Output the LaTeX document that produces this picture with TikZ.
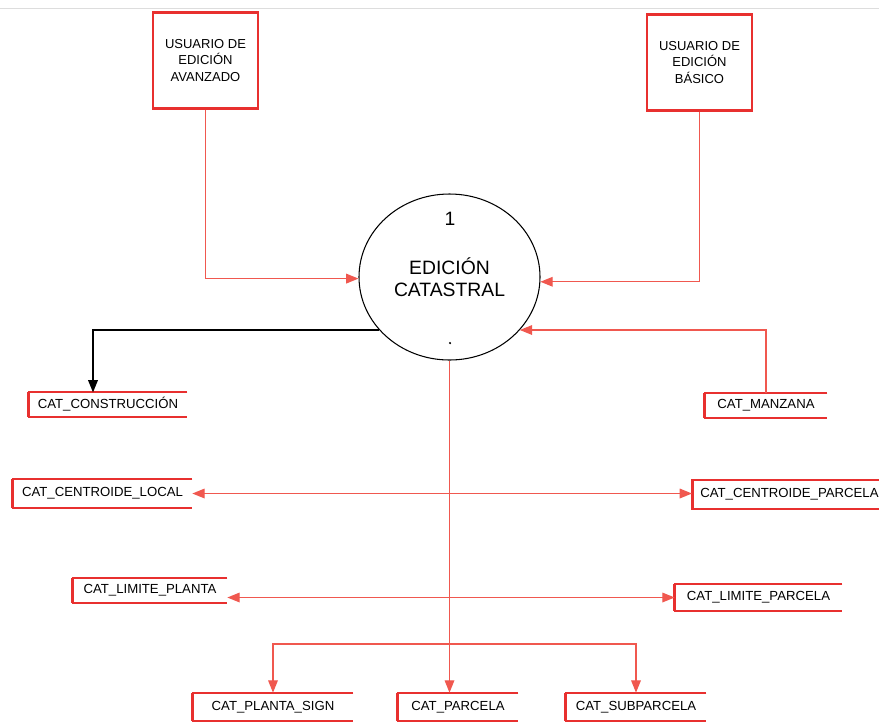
\documentclass[tikz,border=0pt]{standalone}
\usepackage{fontspec}
\setmainfont{Liberation Sans}
\usetikzlibrary{arrows.meta,shapes.geometric}
\definecolor{rojo}{HTML}{E8302F}
\definecolor{rojoclaro}{HTML}{F0584F}
\definecolor{gris}{HTML}{DDDDDD}

\tikzset{
	usuario/.style={draw=rojo, line width=1.6pt, minimum width=2.1cm, minimum height=1.92cm, align=center, font=\fontsize{7.4}{9.4}\selectfont},
	almacen/.style={inner sep=0pt, minimum height=0.52cm, font=\fontsize{7.5}{9}\selectfont},
	borde/.style={rojo, line width=1.1pt},
	flujo/.style={rojoclaro, line width=0.7pt, -{Triangle[length=7pt,width=5.5pt]}},
	doble/.style={rojoclaro, line width=0.7pt, {Triangle[length=7pt,width=5.5pt]}-{Triangle[length=7pt,width=5.5pt]}},
	salida/.style={black, line width=0.8pt, -{Triangle[length=7pt,width=5.5pt]}}
}

\begin{document}
\begin{tikzpicture}
	\useasboundingbox (0,0) rectangle (17.58,-14.48);
	\draw[gris] (0,-0.16) -- (17.58,-0.16);
	% entidades externas
	\node (avz) at (4.11,-1.21)[usuario] {USUARIO DE\\EDICIÓN\\AVANZADO};
	\node (bas) at (13.99,-1.25)[usuario] {USUARIO DE\\EDICIÓN\\BÁSICO};
	% proceso
	\node (proc) at (8.99,-5.54)[ellipse, draw, line width=0.6pt, minimum width=3.62cm, minimum height=3.32cm, align=center, font=\fontsize{11}{12.5}\selectfont] {EDICIÓN\\CATASTRAL};
	\node (num) at (9.0,-4.37)[font=\fontsize{11}{12}\selectfont] {1};
	\node (pto) at (9.0,-6.86)[circle, fill, inner sep=0.5pt] {};
	% almacenes
	\node (cons) at (2.16,-8.09)[almacen, minimum width=3.16cm, minimum height=0.47cm] {CAT\_CONSTRUCCIÓN};
	\node (manz) at (15.32,-8.11)[almacen, minimum width=2.44cm, minimum height=0.47cm] {CAT\_MANZANA};
	\node (cloc) at (2.05,-9.87)[almacen, minimum width=3.58cm, minimum height=0.55cm] {CAT\_CENTROIDE\_LOCAL};
	\node (cpar) at (13.84,-9.89)[almacen, anchor=west, inner xsep=0.16cm, minimum height=0.57cm] {CAT\_CENTROIDE\_PARCELA};
	\node (lpla) at (3.0,-11.81)[almacen, minimum width=3.08cm, minimum height=0.5cm] {CAT\_LIMITE\_PLANTA};
	\node (lpar) at (15.17,-11.95)[almacen, minimum width=3.34cm, minimum height=0.54cm] {CAT\_LIMITE\_PARCELA};
	\node (psig) at (5.46,-14.14)[almacen, minimum width=3.2cm, minimum height=0.56cm] {CAT\_PLANTA\_SIGN};
	\node (parc) at (9.16,-14.14)[almacen, minimum width=2.4cm, minimum height=0.56cm] {CAT\_PARCELA};
	\node (subp) at (12.72,-14.14)[almacen, minimum width=2.8cm, minimum height=0.56cm] {CAT\_SUBPARCELA};
	\foreach \a in {cons,manz,cloc,cpar,lpla,lpar,psig,parc,subp}
	{
		\draw[borde] (\a.north east) -- (\a.north west) -- (\a.south west) -- (\a.south east);
		\draw[rojo, line width=1.7pt] (\a.north west) -- (\a.south west);
	}
	% flujos
	\draw[flujo] (avz.south) |- (proc.181);
	\draw[flujo] (bas.south) |- (proc.-3);
	\draw[flujo] (manz.north) |- (proc.-37);
	\draw[salida] (proc.217) -| ([xshift=-0.3cm]cons.north);
	\draw[doble] (cloc.east) -- (cloc.east -| cpar.west);
	\draw[doble] (lpla.east |- lpar.west) -- (lpar.west);
	\draw[flujo] (proc.south) -- (proc.south |- parc.north);
	\coordinate (rama) at (9.0,-12.88);
	\draw[flujo] (rama) -| (psig.north);
	\draw[flujo] (rama) -| (subp.north);
\end{tikzpicture}
\end{document}
